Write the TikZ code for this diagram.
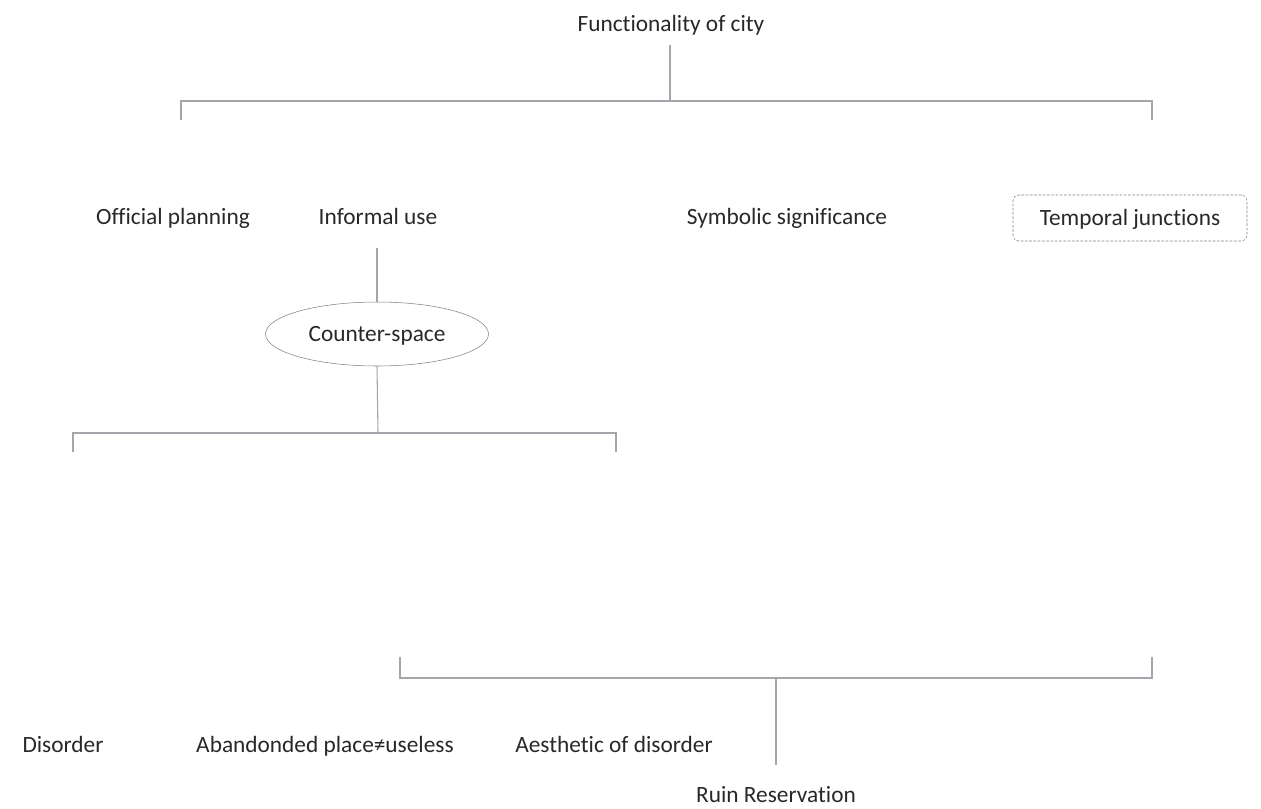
\documentclass[tikz,border=0pt]{standalone}
\usepackage{fontspec}
\setmainfont[Ligatures=NoCommon]{Carlito}
\usepackage{tikz}
\usetikzlibrary{shapes.geometric}

\definecolor{linegray}{RGB}{165,165,172}
\definecolor{textgray}{RGB}{40,40,40}

\begin{document}
\begin{tikzpicture}[x=0.75pt,y=-0.75pt,
  every node/.style={font=\fontsize{17.5}{20}\selectfont,text=textgray,text height=2.2ex,text depth=0ex},
  link/.style={draw=linegray,line width=0.8pt}]
\useasboundingbox (0,0) rectangle (1261,808);
% top level
\node (city) at (671,24) {Functionality of city};
\coordinate (ctop) at (670,45);
\coordinate (cmid) at (670,101);
\coordinate (bl) at (181,101);
\coordinate (br) at (1152,101);
\draw[link] (ctop)--(cmid);
\draw[link] (181,120)--(bl)--(br)--(1152,120);
% second row
\node (plan) at (173,217) {Official planning};
\node (informal) at (378,217) {Informal use};
\node (symbol) at (787,217) {Symbolic significance};
\node[draw=gray,dashed,dash pattern=on 2pt off 1.2pt,rounded corners=4pt,minimum width=234*0.75pt,minimum height=46*0.75pt] (temporal) at (1130,218) {Temporal junctions};
% counter-space
\node[ellipse,draw=gray,minimum width=223*0.75pt,minimum height=64*0.75pt,inner sep=0pt] (counter) at (377,334) {Counter-space};
\draw[link] (377,248)--(counter.north);
\coordinate (dmid) at (378,433);
\draw[link] (counter.south)--(dmid);
\draw[link] (73,452)--(73,433)--(616,433)--(616,452);
% third row
\node (disorder) at (63,745) {Disorder};
\node (abandon) at (325,745) {Abandonded place≠useless};
\node (aesthetic) at (614,745) {Aesthetic of disorder};
% bottom
\coordinate (rmid) at (776,678);
\draw[link] (400,657)--(400,678)--(1152,678)--(1152,657);
\node (ruin) at (776,795) {Ruin Reservation};
\draw[link] (rmid)--(776,765);
\end{tikzpicture}
\end{document}
